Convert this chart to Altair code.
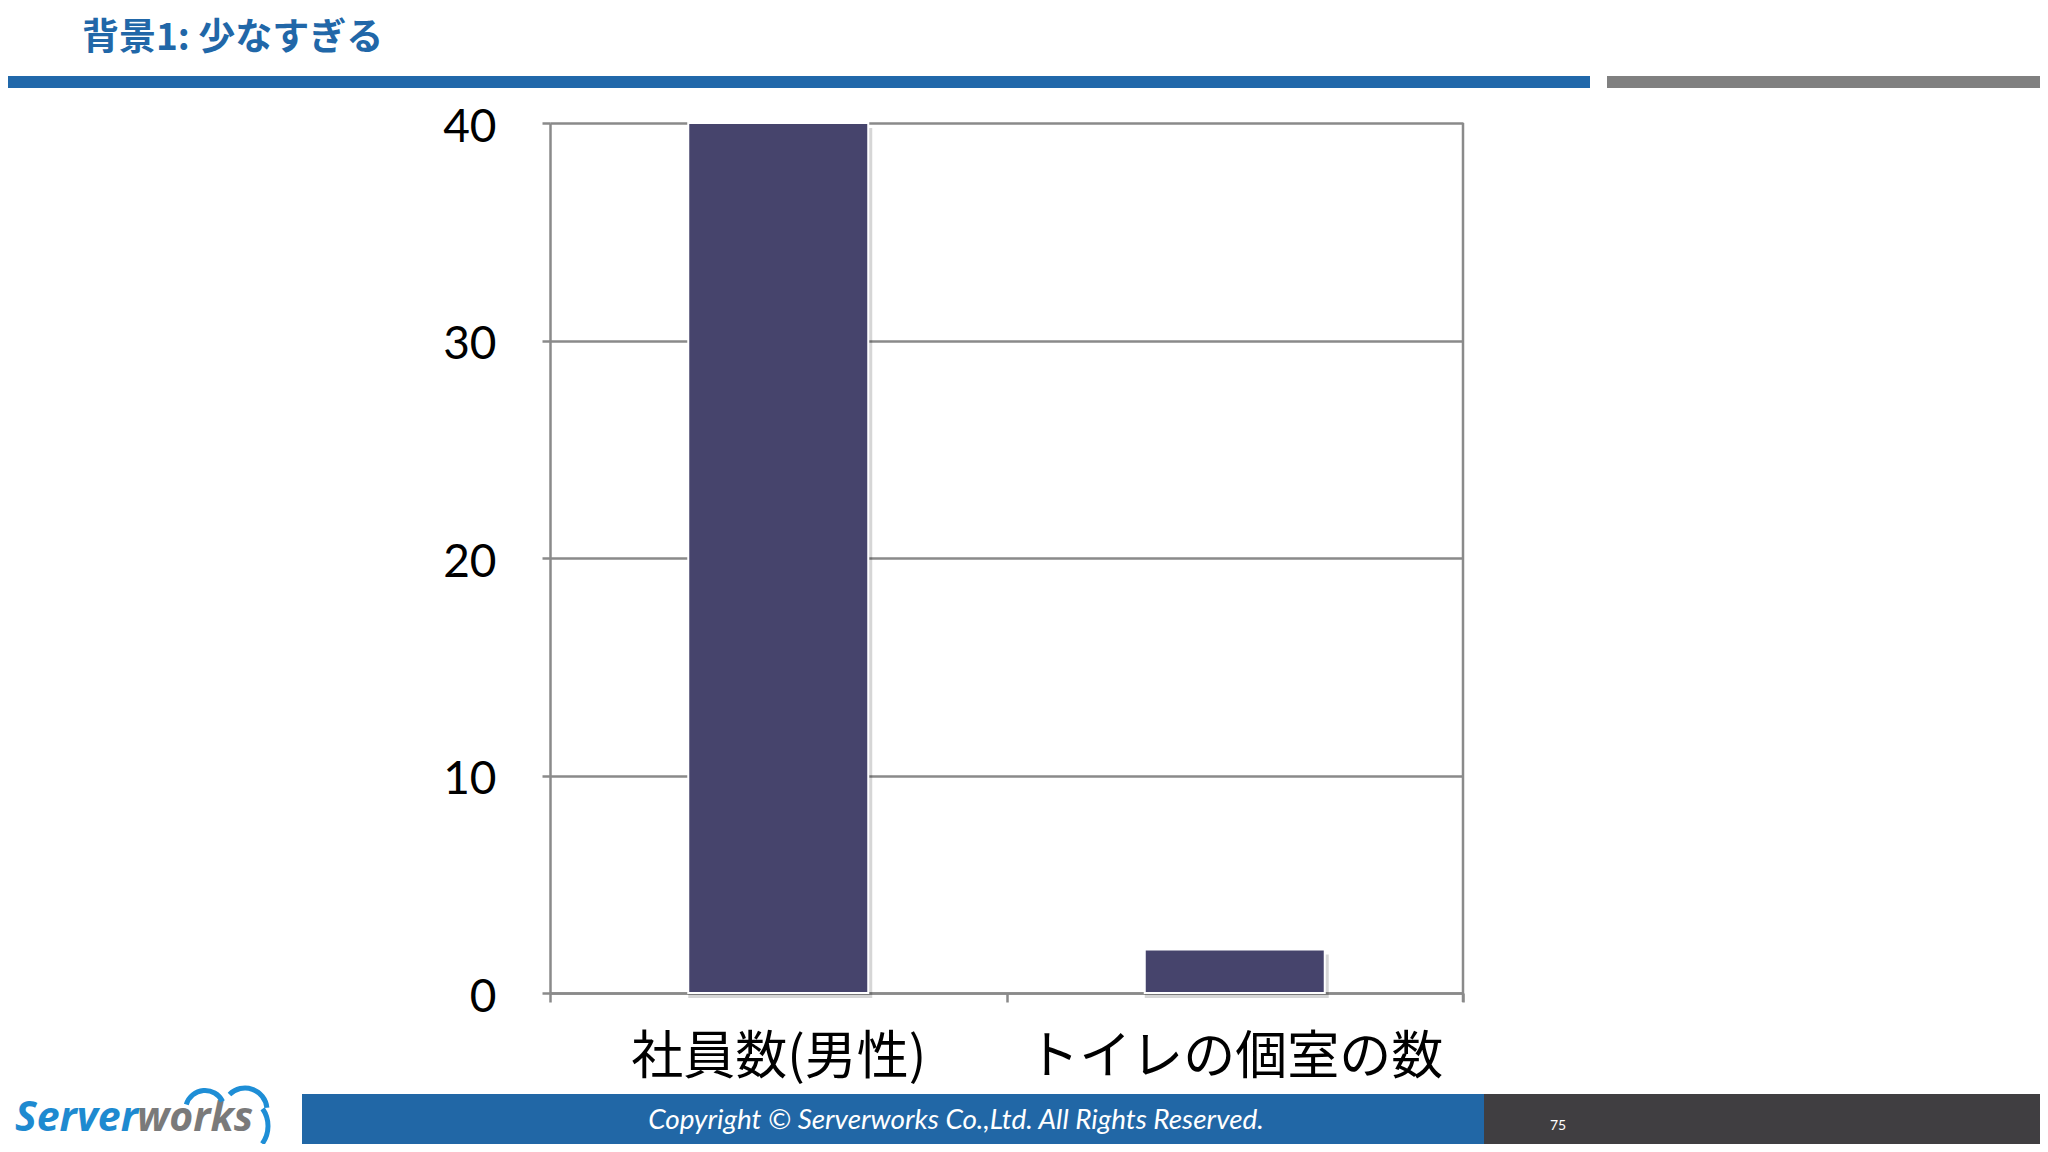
import altair as alt
import pandas as pd

categories = ["社員数(男性)", "トイレの個室の数"]
values = [40, 2]
y_ticks = [0, 10, 20, 30, 40]

title_text = "背景1: 少なすぎる"
copyright_text = "Copyright ©  Serverworks Co.,Ltd. All Rights Reserved."
page_no = "75"
logo_a = "Server"
logo_b = "works"

df = pd.DataFrame({"cat": categories, "val": values})
one = pd.DataFrame({"k": [0]})

GRID = "#8A8A8A"
BAR = "#46446C"
BLUE = "#2167A8"

W, H = 913, 870

xenc_axis = alt.X(
    "cat:N", sort=categories, title=None,
    scale=alt.Scale(paddingInner=0, paddingOuter=0),
    axis=alt.Axis(labelAngle=0, labelFont="Noto Sans CJK JP", labelFontSize=52,
                  labelColor="#000000", labelPadding=30,
                  tickSize=9, tickWidth=2.5, tickBand="extent",
                  tickColor=GRID, domainColor=GRID, domainWidth=2.5,
                  grid=False, labelBaseline="top", labelLimit=0, labelAlign="center"),
)
yenc_axis = alt.Y(
    "val:Q", title=None, scale=alt.Scale(domain=[0, 40], nice=False),
    axis=alt.Axis(values=y_ticks, labelFont="Lato", labelFontSize=46, labelColor="#000000",
                  labelPadding=46, labelOffset=4, tickSize=8, tickWidth=2.5, tickColor=GRID,
                  domainColor=GRID, domainWidth=2.5, grid=True, gridColor=GRID,
                  gridWidth=2.5),
)

base = alt.Chart(df)
shadow = base.mark_bar(size=184, color="#000000", opacity=0.16, xOffset=2, yOffset=5).encode(
    x=alt.X("cat:N", sort=categories, title=None),
    y=alt.Y("val:Q", title=None),
)
bars = base.mark_bar(size=180, color=BAR, stroke="white", strokeWidth=2).encode(
    x=xenc_axis, y=yenc_axis
)

right_border = alt.Chart(one).mark_rule(color=GRID, strokeWidth=2.5).encode(
    x=alt.value(W), y=alt.value(0), y2=alt.value(879)
)

# Slide decoration (coordinates relative to plot origin)
title = alt.Chart(one).mark_text(
    text=title_text, font="Noto Sans CJK JP", fontWeight="bold", fontSize=37,
    color=BLUE, align="left", baseline="middle"
).encode(x=alt.value(-468), y=alt.value(-84))

top_blue = alt.Chart(one).mark_rect(color="#2168AA").encode(
    x=alt.value(-560), x2=alt.value(1040), y=alt.value(-47), y2=alt.value(-35)
)
top_grey = alt.Chart(one).mark_rect(color="#808080").encode(
    x=alt.value(1057), x2=alt.value(1520), y=alt.value(-47), y2=alt.value(-35)
)

foot_blue = alt.Chart(one).mark_rect(color="#2167A6").encode(
    x=alt.value(-248), x2=alt.value(934), y=alt.value(971), y2=alt.value(1040)
)
foot_dark = alt.Chart(one).mark_rect(color="#403E41").encode(
    x=alt.value(934), x2=alt.value(1520), y=alt.value(971), y2=alt.value(1040)
)
copyright = alt.Chart(one).mark_text(
    text=copyright_text, font="Lato", fontStyle="italic", fontSize=27.9,
    color="white", align="center", baseline="middle"
).encode(x=alt.value(406), y=alt.value(998))
pageno = alt.Chart(one).mark_text(
    text=page_no, font="Lato", fontSize=14, color="white", align="center", baseline="middle"
).encode(x=alt.value(1008), y=alt.value(1003))

logo1 = alt.Chart(one).mark_text(
    text=logo_a, font="Open Sans", fontWeight="bold", fontStyle="italic", fontSize=41,
    color="#1E8AD0", align="left", baseline="alphabetic"
).encode(x=alt.value(-535), y=alt.value(1008))
logo2 = alt.Chart(one).mark_text(
    text=logo_b, font="Open Sans", fontWeight="bold", fontStyle="italic", fontSize=41,
    color="#7A7A7A", align="left", baseline="alphabetic"
).encode(x=alt.value(-413), y=alt.value(1008))

CLOUD = "#1E8ED6"
arc1 = alt.Chart(one).mark_arc(
    color=CLOUD, theta=5.0, theta2=7.4, innerRadius=17, outerRadius=22
).encode(x=alt.value(205 - 550), y=alt.value(1110 - 123))
arc2 = alt.Chart(one).mark_arc(
    color=CLOUD, theta=5.5, theta2=7.75, innerRadius=19.5, outerRadius=24.5
).encode(x=alt.value(245 - 550), y=alt.value(1110 - 123))
arc3 = alt.Chart(one).mark_arc(
    color=CLOUD, theta=0.96, theta2=2.2, innerRadius=27.5, outerRadius=32.5
).encode(x=alt.value(238 - 550), y=alt.value(1126 - 123))

chart = alt.layer(
    shadow, bars, right_border, title, top_blue, top_grey, foot_blue, foot_dark,
    copyright, pageno, logo1, logo2, arc1, arc2, arc3
).properties(
    width=W, height=H,
    padding={"left": 542, "top": 115, "right": 577, "bottom": 151},
    autosize=alt.AutoSizeParams(type="none"),
    background="white",
).configure_view(stroke=None)

chart.save("out.html", embed_options={"renderer": "svg", "actions": False})
